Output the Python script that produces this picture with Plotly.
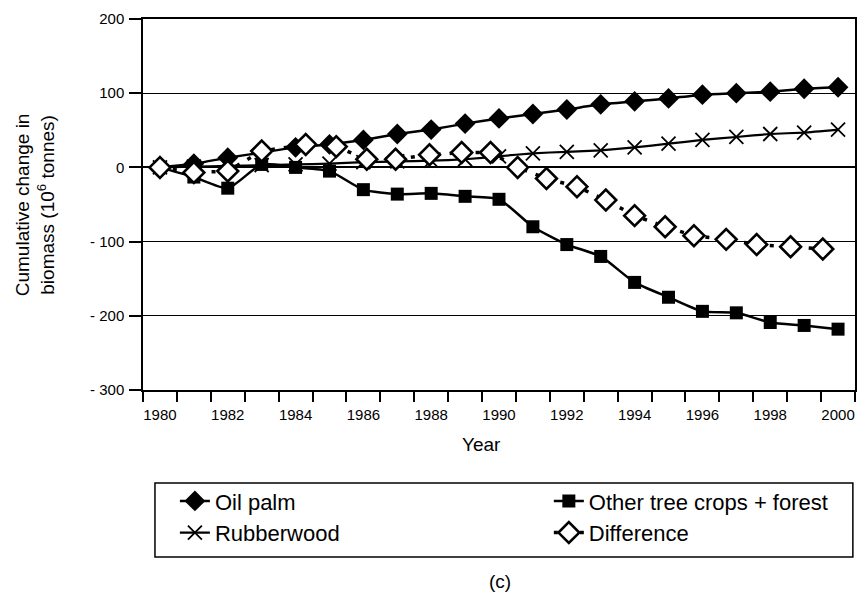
import plotly.graph_objects as go

years = list(range(1980, 2001))
oil_palm = [0, 5, 13, 20, 27, 31, 37, 45, 51, 59, 66, 72, 78, 85, 89, 93, 98, 100, 102, 106, 108]
rubberwood = [0, 1, 2, 3, 4, 5, 7, 8, 9, 11, 15, 19, 21, 23, 27, 32, 37, 41, 45, 47, 51]
other = [0, -13, -28, 4, 0, -5, -30, -36, -35, -39, -43, -80, -104, -120, -155, -175, -194, -196, -209, -213, -218]
diff_x = [1980, 1981, 1982, 1983, 1984.3, 1985.2, 1986.1, 1986.95, 1987.95, 1988.9, 1989.75,
          1990.55, 1991.4, 1992.3, 1993.15, 1994.0, 1994.9, 1995.75, 1996.7, 1997.6, 1998.6, 1999.55]
difference = [0, -7, -5, 22, 31, 28, 11, 11, 17, 20, 20, 0, -15, -26, -44, -65, -80, -92, -97, -104, -107, -110]

y_ticks = [200, 100, 0, -100, -200, -300]
y_ticktext = ["200", "100", "0", "- 100", "- 200", "- 300"]
x_ticks = list(range(1980, 2001, 2))

FONT = "Liberation Sans, Arial, sans-serif"

fig = go.Figure()
fig.add_trace(go.Scatter(
    x=years, y=oil_palm, name="Oil palm", mode="lines+markers", legend="legend",
    line=dict(color="black", width=2.5, shape="spline", smoothing=0.4),
    marker=dict(symbol="diamond", size=16, color="black")))
fig.add_trace(go.Scatter(
    x=years, y=other, name="Other tree crops + forest", mode="lines+markers", legend="legend2",
    line=dict(color="black", width=2.5, shape="spline", smoothing=0.6),
    marker=dict(symbol="square", size=13, color="black")))
fig.add_trace(go.Scatter(
    x=years, y=rubberwood, name="Rubberwood", mode="lines+markers", legend="legend",
    line=dict(color="black", width=2.2, shape="spline", smoothing=0.4),
    marker=dict(symbol="x-thin", size=14, color="black", line=dict(color="black", width=1.8))))
fig.add_trace(go.Scatter(
    x=diff_x, y=difference, name="Difference", mode="lines+markers", legend="legend2",
    line=dict(color="black", width=3.5, dash="4px,9px"),
    marker=dict(symbol="diamond", size=16, color="white", line=dict(color="black", width=2.6))))

legend_common = dict(
    orientation="v", xanchor="left", y=-0.243, yanchor="top",
    borderwidth=0, bgcolor="rgba(0,0,0,0)",
    font=dict(size=22, family=FONT), traceorder="normal",
)

fig.update_layout(
    width=860, height=596,
    margin=dict(l=143, r=3, t=19, b=206),
    paper_bgcolor="white", plot_bgcolor="white",
    font=dict(family=FONT, color="black", size=15),
    showlegend=True,
    legend=dict(x=0.0448, **legend_common),
    legend2=dict(x=0.570, **legend_common),
    xaxis=dict(
        range=[1979.5, 2000.5], tickmode="array", tickvals=x_ticks,
        ticks="", showgrid=False, zeroline=False,
        showline=True, linecolor="black", linewidth=1.5, mirror=True,
        tickfont=dict(size=15), ticklabelstandoff=10,
        minor=dict(tickmode="linear", tick0=1979.5, dtick=1, ticks="outside",
                   ticklen=10, tickwidth=2, tickcolor="black", showgrid=False),
    ),
    yaxis=dict(
        range=[-300, 200], tickmode="array", tickvals=y_ticks, ticktext=y_ticktext,
        ticks="outside", ticklen=12, tickwidth=1.5, tickcolor="black",
        showgrid=True, gridcolor="black", gridwidth=1.3,
        zeroline=True, zerolinecolor="black", zerolinewidth=1.5,
        showline=True, linecolor="black", linewidth=1.5, mirror=True,
        tickfont=dict(size=15), ticklabelstandoff=2,
    ),
    shapes=[
        dict(type="rect", xref="paper", yref="paper", x0=0.0168, x1=0.997, y0=-0.2507, y1=-0.4501,
             line=dict(color="black", width=1.5), fillcolor="rgba(0,0,0,0)"),
    ],
    annotations=[
        dict(text="Cumulative change in<br>biomass (10<sup>6</sup> tonnes)", textangle=-90,
             xref="paper", yref="paper", x=-0.152, y=0.5, xanchor="center", yanchor="middle",
             showarrow=False, font=dict(size=19)),
        dict(text="Year", xref="paper", yref="paper", x=0.475, y=-0.148,
             xanchor="center", yanchor="middle", showarrow=False, font=dict(size=19)),
        dict(text="(c)", xref="paper", yref="paper", x=0.501, y=-0.515,
             xanchor="center", yanchor="middle", showarrow=False, font=dict(size=19)),
    ],
)

fig.write_html("out.html")
